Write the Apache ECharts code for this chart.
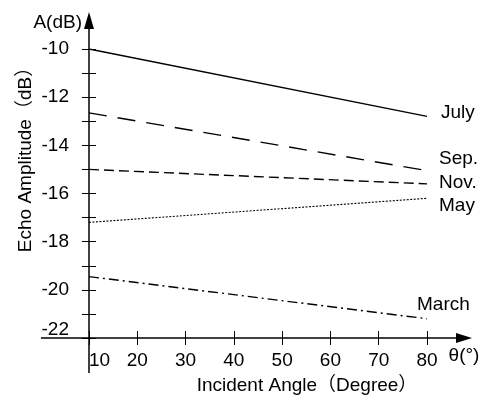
<!DOCTYPE html>
<html>
<head>
<meta charset="utf-8">
<script src="https://cdn.jsdelivr.net/npm/echarts@6/dist/echarts.min.js"></script>
<style>
  html, body { margin: 0; padding: 0; background: #fff; }
  #chart { width: 487px; height: 396px; }
</style>
</head>
<body>
<div id="chart"></div>
<script>
  // incident angle (degree) at the two ends of each line
  var angles = [10, 80]
  var july = [-10.0, -12.8]
  var sep = [-12.65, -15.05]
  var nov = [-15.0, -15.6]
  var may = [-17.2, -16.2]
  var march = [-19.45, -21.2]

  var FONT = '"Liberation Sans", Arial, "Noto Sans CJK SC", sans-serif'

  function pairs(vals) {
    return angles.map(function (a, i) { return [a, vals[i]] })
  }

  function line(name, vals, dash, off) {
    return {
      name: name,
      type: 'line',
      xAxisIndex: 0,
      yAxisIndex: 0,
      symbol: 'none',
      silent: true,
      lineStyle: { color: '#000', width: dash === 'dotted' ? 1.1 : 1.4, type: dash === 'dotted' ? [2, 1.5] : dash },
      endLabel: {
        show: true,
        formatter: '{a}',
        color: '#000',
        fontSize: 19,
        fontFamily: FONT,
        distance: 14,
        offset: off
      },
      data: pairs(vals)
    }
  }

  var chart = echarts.init(document.getElementById('chart'))

  var xBase = { type: 'value', min: 10, max: 80, interval: 10, position: 'bottom', splitLine: { show: false }, axisLine: { show: false } }
  var yBase = { type: 'value', min: -22, max: -10, interval: 1, position: 'left', splitLine: { show: false }, axisLine: { show: false } }

  var option = {
    animation: false,
    grid: { left: 89, right: 60, top: 49, bottom: 58 },
    xAxis: [
      Object.assign({}, xBase, {
        axisTick: { inside: true, length: 7, lineStyle: { color: '#000' } },
        axisLabel: { color: '#000', fontSize: 19, fontFamily: FONT, margin: 13, alignMinLabel: 'left' }
      }),
      Object.assign({}, xBase, {
        axisTick: { inside: false, length: 7, lineStyle: { color: '#000' } },
        axisLabel: { show: false }
      })
    ],
    yAxis: [
      Object.assign({}, yBase, {
        axisTick: { inside: true, length: 7, lineStyle: { color: '#000' } },
        axisLabel: {
          color: '#000', fontSize: 19, fontFamily: FONT, margin: 20,
          formatter: function (v) {
            if (Math.abs(v % 2) === 1) return ''
            return v === -22 ? '{low|' + v + '}' : v
          },
          rich: { low: { fontSize: 19, fontFamily: FONT, color: '#000', padding: [0, 0, 16, 0] } }
        }
      }),
      Object.assign({}, yBase, {
        axisTick: { inside: false, length: 7, lineStyle: { color: '#000' } },
        axisLabel: { show: false }
      })
    ],
    series: [
      line('July', july, 'solid', [0, -4]),
      line('Sep.', sep, [18, 11], [-2, -12]),
      line('Nov.', nov, [10, 5], [-2, -1]),
      line('May', may, 'dotted', [-2, 7]),
      line('March', march, [10, 4, 2, 4], [-24, -14])
    ]
  }

  chart.setOption(option)

  // axis lines with arrows, drawn from the grid's own scale
  var o = chart.convertToPixel({ gridIndex: 0 }, [10, -22])
  var t = chart.convertToPixel({ gridIndex: 0 }, [10, -10])
  var r = chart.convertToPixel({ gridIndex: 0 }, [80, -22])
  var yTop = t[1] - 37
  var xEnd = r[0] + 45

  chart.setOption({
    graphic: [
      { type: 'line', shape: { x1: o[0], y1: o[1] + 35, x2: o[0], y2: yTop + 10 }, style: { stroke: '#000', lineWidth: 1.5 } },
      { type: 'polygon', shape: { points: [[o[0], yTop], [o[0] - 5, yTop + 17], [o[0] + 5, yTop + 17]] }, style: { fill: '#000' } },
      { type: 'line', shape: { x1: o[0] - 48, y1: o[1], x2: xEnd - 10, y2: o[1] }, style: { stroke: '#000', lineWidth: 1.5 } },
      { type: 'polygon', shape: { points: [[xEnd, o[1]], [xEnd - 16, o[1] - 5], [xEnd - 16, o[1] + 5]] }, style: { fill: '#000' } },
      { type: 'text', x: o[0] - 7, y: yTop + 11, style: { text: 'A(dB)', fill: '#000', font: '19px ' + FONT, align: 'right', verticalAlign: 'middle' } },
      { type: 'text', x: xEnd - 8, y: o[1] + 18, style: { text: 'θ(°)', fill: '#000', font: '19px ' + FONT, align: 'center', verticalAlign: 'middle' } },
      { type: 'text', x: 307, y: 386, style: { text: 'Incident Angle（Degree）', fill: '#000', font: '19px ' + FONT, align: 'center', verticalAlign: 'middle' } },
      { type: 'text', x: 26, y: 155, rotation: Math.PI / 2, style: { text: 'Echo Amplitude（dB）', fill: '#000', font: '19px ' + FONT, align: 'center', verticalAlign: 'middle' } }
    ]
  })
</script>
</body>
</html>
